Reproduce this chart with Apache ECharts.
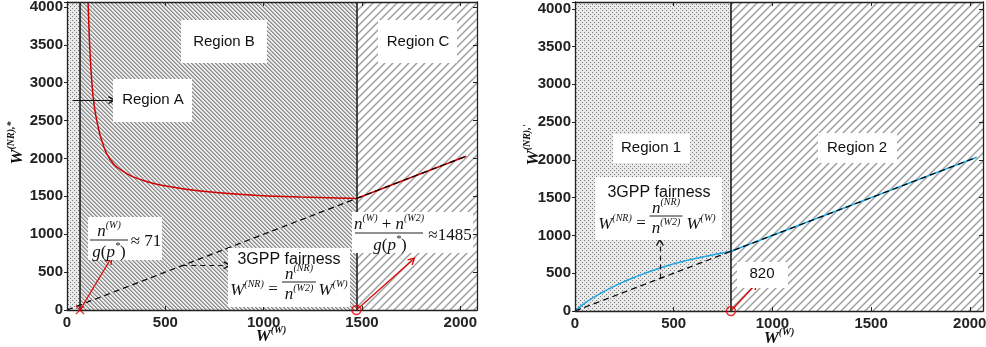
<!DOCTYPE html>
<html>
<head>
<meta charset="utf-8">
<script src="https://cdn.jsdelivr.net/npm/echarts@6/dist/echarts.min.js"></script>
<style>
  html, body { margin: 0; padding: 0; background: #fff; }
  #chart { width: 986px; height: 347px; }
</style>
</head>
<body>
<div id="chart"></div>
<script>
// ==============================================
// DATA
// ==============================================

const xTicks = [0, 500, 1000, 1500, 2000];
const yTicks = [0, 500, 1000, 1500, 2000, 2500, 3000, 3500, 4000];

// left panel: region borders at W ~ 71 and ~ 1485
const leftBounds = [66, 1472];
// right panel: region border at W ~ 820
const rightBound = 790;

// W(NR),* vs W(W)
const redCurve = [
    [107, 4065], [112, 3700], [118, 3350], [126, 3020], [138, 2700], [154, 2470],
    [180, 2210], [219, 1990], [280, 1840], [388, 1710], [520, 1630], [678, 1570],
    [932, 1518], [1187, 1492], [1472, 1472]
];
const redTail = [[1472, 1472], [2030, 2030]];
const leftFairness = [[0, 0], [2030, 2030]];

// W(NR)' vs W(W)
const blueCurve = [
    [0, 0], [30, 65], [70, 140], [127, 230], [200, 330], [295, 440],
    [431, 570], [566, 670], [701, 745], [790, 790]
];
const blueTail = [[790, 790], [2035, 2035]];
const rightFairness = [[0, 0], [2035, 2035]];

// annotation arrows (data coords)
const redArrowsL = [[[66, 0], [219, 660]], [[1472, 0], [1757, 660]]];
const regionAArrow = [[30, 2770], [229, 2770]];
const dashArrowL = [[586, 590], [815, 590]];
const redArrowR = [[790, 0], [912, 344]];
const dashArrowR = [[430, 430], [430, 913]];

// ==============================================
// PATTERNS
// ==============================================

function hatch(size, draw) {
    const c = document.createElement('canvas');
    c.width = c.height = size;
    draw(c.getContext('2d'), size);
    return { image: c, repeat: 'repeat' };
}

const dotsFill = hatch(4, function (c) {
    c.fillStyle = '#e9e9e9'; c.fillRect(0, 0, 4, 4);
    c.fillStyle = '#7a7a7a'; c.fillRect(0, 0, 1, 1); c.fillRect(2, 2, 1, 1);
});
const fineFill = hatch(4, function (c) {
    c.fillStyle = '#ececec'; c.fillRect(0, 0, 4, 4);
    for (let i = 0; i < 4; i++) {
        c.fillStyle = '#8a8a8a'; c.fillRect(i, i, 1, 1);
        c.fillStyle = '#b4b4b4'; c.fillRect((i + 1) % 4, i, 1, 1);
    }
});
const coarseFill = hatch(8, function (c) {
    c.fillStyle = '#ffffff'; c.fillRect(0, 0, 8, 8);
    c.strokeStyle = '#a0a0a0'; c.lineWidth = 1.5;
    c.beginPath();
    c.moveTo(0, 8); c.lineTo(8, 0);
    c.moveTo(-2, 2); c.lineTo(2, -2);
    c.moveTo(6, 10); c.lineTo(10, 6);
    c.stroke();
});

// ==============================================
// AXES
// ==============================================

const tickFont = { color: '#222', fontSize: 15, fontWeight: 'bold', fontFamily: 'Liberation Sans' };

function xAx(gridIndex, position, max) {
    return {
        type: 'value', gridIndex: gridIndex, position: position, min: 0, max: max, interval: 500, z: 10,
        axisLine: { show: true, onZero: false, lineStyle: { color: '#222', width: 1.3 } },
        axisTick: { show: true, inside: true, length: 4, lineStyle: { color: '#222' } },
        axisLabel: Object.assign({
            show: position === 'bottom', margin: 5,
            formatter: function (v) { return xTicks.includes(v) ? String(v) : ''; }
        }, tickFont),
        splitLine: { show: false }
    };
}

function yAx(gridIndex, position, max) {
    return {
        type: 'value', gridIndex: gridIndex, position: position, min: 0, max: max, interval: 500, z: 10,
        axisLine: { show: true, onZero: false, lineStyle: { color: '#222', width: 1.3 } },
        axisTick: { show: true, inside: position === 'right', length: position === 'right' ? 4 : 3, lineStyle: { color: '#222' } },
        axisLabel: Object.assign({
            show: position === 'left', margin: 4,
            formatter: function (v) { return yTicks.includes(v) ? String(v) : ''; }
        }, tickFont),
        splitLine: { show: false }
    };
}

// ==============================================
// SERIES HELPERS
// ==============================================

const chevron = 'path://M5,0 L10,9 L8.6,10 L5,3.6 L1.4,10 L0,9 Z';
const crossPath = 'path://M1,0 L5,4 L9,0 L10,1 L6,5 L10,9 L9,10 L5,6 L1,10 L0,9 L4,5 L0,1 Z';

function regions(xi, areas, borders) {
    return {
        type: 'line', xAxisIndex: xi, yAxisIndex: xi, data: [], z: 1, silent: true,
        markArea: { silent: true, itemStyle: { opacity: 1 }, data: areas.map(function (a) {
            return [{ xAxis: a[0], itemStyle: { color: a[2], opacity: 1 } }, { xAxis: a[1] }];
        }) },
        markLine: {
            silent: true, symbol: 'none', label: { show: false },
            lineStyle: { color: '#111', width: 1.5, type: 'solid' },
            data: borders.map(function (b) { return { xAxis: b }; })
        }
    };
}

function curve(xi, data, color, smooth, dashed, z) {
    return {
        type: 'line', xAxisIndex: xi, yAxisIndex: xi, data: data, z: z,
        smooth: smooth, showSymbol: false, silent: true,
        lineStyle: { color: color, width: dashed ? 1.2 : 1.5, type: dashed ? [6, 4] : 'solid' }
    };
}

function arrows(xi, list, color, type) {
    return {
        type: 'line', xAxisIndex: xi, yAxisIndex: xi, data: [], z: 6, silent: true,
        markLine: {
            silent: true, symbol: ['none', chevron], symbolSize: [8, 8], label: { show: false },
            lineStyle: { color: color, width: 1.2, type: type },
            data: list.map(function (p) { return [{ coord: p[0] }, { coord: p[1] }]; })
        }
    };
}

function marker(xi, x, symbol, filled) {
    return {
        type: 'scatter', xAxisIndex: xi, yAxisIndex: xi, data: [[x, 0]], z: 12, clip: false, silent: true,
        symbol: symbol, symbolSize: 9,
        itemStyle: filled ? { color: '#e00000' } : { color: 'rgba(0,0,0,0)', borderColor: '#e00000', borderWidth: 1.5 }
    };
}

// ==============================================
// TEXT ANNOTATIONS
// ==============================================

const serif = 'Liberation Serif';
const mathRich = {
    i: { fontFamily: serif, fontStyle: 'italic', fontSize: 17, lineHeight: 20, verticalAlign: 'bottom', fill: '#111' },
    s: { fontFamily: serif, fontStyle: 'italic', fontSize: 10, lineHeight: 11, verticalAlign: 'top', fill: '#111' },
    r: { fontFamily: serif, fontSize: 17, lineHeight: 20, verticalAlign: 'bottom', fill: '#111' },
    b: { fontFamily: serif, fontStyle: 'italic', fontWeight: 'bold', fontSize: 17, lineHeight: 20, verticalAlign: 'bottom', fill: '#111' },
    bs: { fontFamily: serif, fontStyle: 'italic', fontWeight: 'bold', fontSize: 10, lineHeight: 11, verticalAlign: 'top', fill: '#111' }
};

function box(x, y, w, h) {
    return { type: 'rect', shape: { x: x, y: y, width: w, height: h }, style: { fill: '#fff' }, z: 100, silent: true };
}
function txt(x, y, text, size, extra) {
    return Object.assign({
        type: 'text', x: x, y: y, z: 110, silent: true,
        style: { text: text, rich: mathRich, font: (size || 15) + 'px "Liberation Sans"', fill: '#111', align: 'center', verticalAlign: 'middle' }
    }, extra || {});
}
function bar(cx, y, w) {
    return { type: 'line', shape: { x1: cx - w / 2, y1: y, x2: cx + w / 2, y2: y }, style: { stroke: '#222', lineWidth: 1 }, z: 110, silent: true };
}

const gp = '{i|g}{r|(}{i|p}{s|*}{r|)}';

const graphics = [
    // left panel
    box(181, 20, 86, 43), txt(224, 42, 'Region B'),
    box(378, 20, 79, 43), txt(418, 42, 'Region C'),
    box(113, 79, 79, 43), txt(153, 100, 'Region A'),
    box(88, 217, 74, 43),
    txt(109, 230, '{i|n}{s|(W)}'), bar(109, 240, 38), txt(109, 251, gp), txt(146, 240, '{r|≈ 71}'),
    box(228, 248, 122, 59),
    txt(289, 260, '3GPP fairness', 16),
    txt(247, 289, '{i|W}{s|(NR)}'), txt(273, 288, '{r|=}'),
    txt(299, 273, '{i|n}{s|(NR)}'), bar(299, 282, 34), txt(299, 293, '{i|n}{s|(W2)}'),
    txt(333, 289, '{i|W}{s|(W)}'),
    box(352, 212, 121, 41),
    txt(389, 223, '{i|n}{s|(W)}{r| + }{i|n}{s|(W2)}'), bar(389, 233, 68), txt(390, 244, gp),
    txt(450, 234, '{r|≈1485}'),
    txt(271, 335, '{b|W}{bs|(W)}'),
    txt(16, 143, '{b|W}{bs|(NR),*}', 15, { rotation: Math.PI / 2 }),
    // right panel
    box(613, 134, 77, 29), txt(651, 148, 'Region 1'),
    box(818, 133, 79, 30), txt(857, 148, 'Region 2'),
    box(595, 177, 127, 63),
    txt(659, 193, '3GPP fairness', 16),
    txt(615, 223, '{i|W}{s|(NR)}'), txt(641, 222, '{r|=}'),
    txt(666, 207, '{i|n}{s|(NR)}'), bar(666, 216, 33), txt(666, 227, '{i|n}{s|(W2)}'),
    txt(701, 223, '{i|W}{s|(W)}'),
    box(737, 262, 51, 26), txt(762, 274, '820'),
    txt(779, 337, '{b|W}{bs|(W)}'),
    txt(532, 145, "{b|W}{bs|(NR),'}", 15, { rotation: Math.PI / 2 })
];

// ==============================================
// CHART
// ==============================================

const chart = echarts.init(document.getElementById('chart'));

chart.setOption({
    animation: false,
    backgroundColor: '#fff',
    grid: [
        { left: 67, top: 2, width: 410, height: 308, containLabel: false, outerBoundsMode: 'none' },
        { left: 575, top: 2, width: 408, height: 309, containLabel: false, outerBoundsMode: 'none' }
    ],
    xAxis: [xAx(0, 'bottom', 2085), xAx(0, 'top', 2085), xAx(1, 'bottom', 2067), xAx(1, 'top', 2067)],
    yAxis: [yAx(0, 'left', 4065), yAx(0, 'right', 4065), yAx(1, 'left', 4090), yAx(1, 'right', 4090)],
    series: [
        regions(0, [[0, leftBounds[0], dotsFill], [leftBounds[0], leftBounds[1], fineFill], [leftBounds[1], 2085, coarseFill]], leftBounds),
        curve(0, redCurve, '#d00000', 0.5, false, 3),
        curve(0, redTail, '#d00000', false, false, 3),
        curve(0, leftFairness, '#000', false, true, 4),
        arrows(0, redArrowsL, '#e00000', 'solid'),
        arrows(0, [regionAArrow], '#111', 'solid'),
        arrows(0, [dashArrowL], '#111', [5, 4]),
        marker(0, leftBounds[0], crossPath, true),
        marker(0, leftBounds[1], 'circle', false),

        regions(2, [[0, rightBound, dotsFill], [rightBound, 2067, coarseFill]], [rightBound]),
        curve(2, blueCurve, '#1ea7e4', 0.5, false, 3),
        curve(2, blueTail, '#1ea7e4', false, false, 3),
        curve(2, rightFairness, '#000', false, true, 4),
        arrows(2, [redArrowR], '#e00000', 'solid'),
        arrows(2, [dashArrowR], '#111', [5, 4]),
        marker(2, rightBound, 'circle', false)
    ],
    graphic: graphics
});
</script>
</body>
</html>
